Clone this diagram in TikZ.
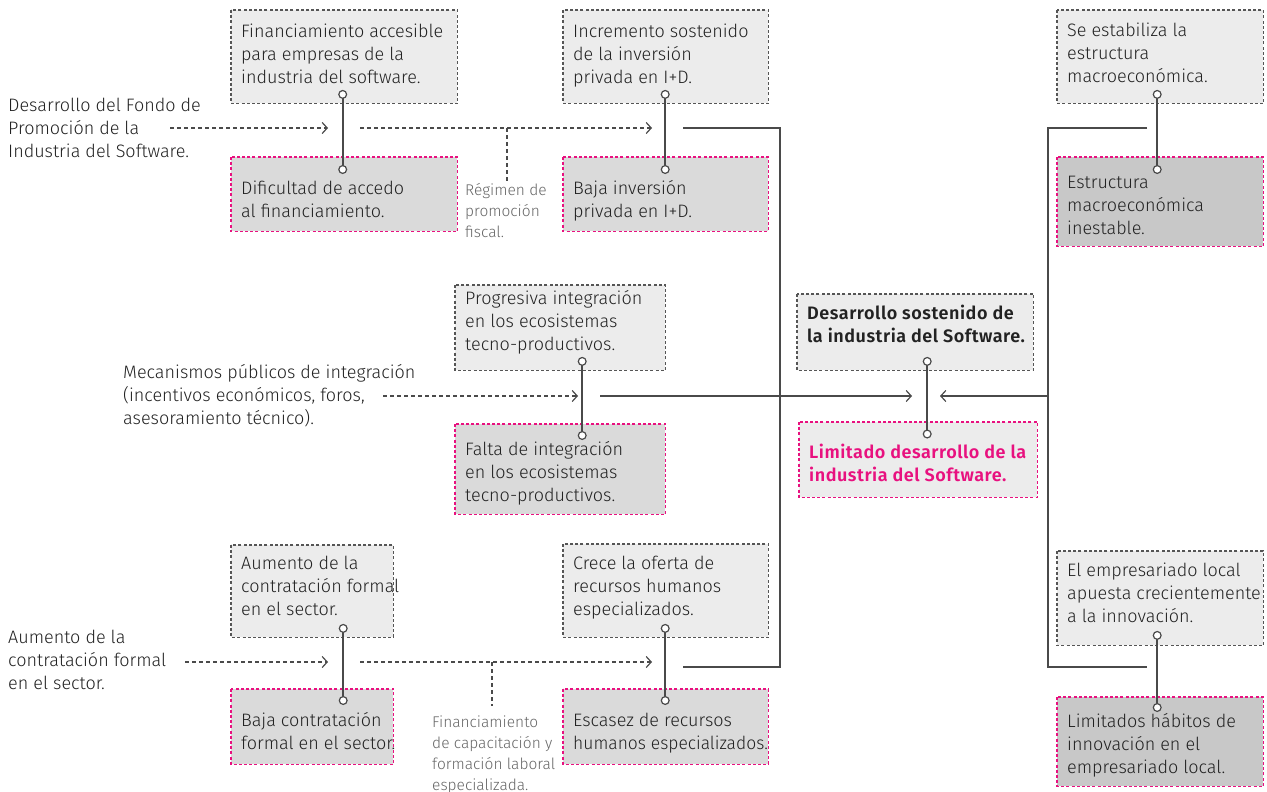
\documentclass[tikz,border=0pt]{standalone}
\usepackage{fontspec}
\setmainfont{Fira Sans Light}[BoldFont={Fira Sans SemiBold}, BoldFeatures={LetterSpace=3}]
\usetikzlibrary{arrows.meta}
\definecolor{ink}{HTML}{222222}
\definecolor{linegray}{HTML}{4A4A4A}
\definecolor{boxline}{HTML}{555555}
\definecolor{notegray}{HTML}{666666}
\definecolor{fillA}{HTML}{ECECEC}
\definecolor{fillB}{HTML}{DADADA}
\definecolor{fillC}{HTML}{C8C8C8}
\definecolor{rosa}{HTML}{E8117F}
% left-aligned block of lines, allowed to run past its nominal width
\newcommand{\linesl}[1]{\begin{tabular}[t]{@{}l@{}}#1\end{tabular}}
% box contents: width, height, first-baseline offset from the top, lines
\newcommand{\boxtext}[4]{\parbox[c][#2pt][t]{#1pt}{\vspace*{\dimexpr #3pt-16.1pt\relax}\linesl{#4}}}
\tikzset{
  basebox/.style={anchor=north west, inner xsep=10pt, inner ysep=0pt, text=ink,
    font=\fontsize{18}{23}\selectfont},
  goalbox/.style={basebox, fill=fillA},
  probbox/.style={basebox, fill=fillB},
  probdark/.style={basebox, fill=fillC},
  frame/.style={line width=1.2pt, dash pattern=on 3pt off 2.2pt},
  goalframe/.style={frame, draw=boxline},
  probframe/.style={frame, draw=rosa},
  sidetext/.style={anchor=base west, inner sep=0pt, text=ink, font=\fontsize{18}{23}\selectfont},
  note/.style={anchor=base west, inner sep=0pt, text=notegray, font=\fontsize{15.5}{21}\selectfont},
  pair/.style={draw=linegray, line width=1.6pt,
    {Circle[length=9pt,width=9pt,fill=white,line width=1.2pt]}-{Circle[length=9pt,width=9pt,fill=white,line width=1.2pt]}},
  dasharrow/.style={draw=linegray, line width=1.1pt, dash pattern=on 4pt off 3pt,
    -{Straight Barb[length=5pt,width=11pt,line width=1.2pt]}},
  dashline/.style={draw=linegray, line width=1.1pt, dash pattern=on 4pt off 3pt},
  solidline/.style={draw=linegray, line width=1.3pt},
  solidarrow/.style={solidline, -{Straight Barb[length=5pt,width=11pt,line width=1.2pt]}},
}
\begin{document}
\begin{tikzpicture}[x=1pt,y=-1pt]
\useasboundingbox (0,0) rectangle (1267,792);

% ---- row 1: financing / R&D / macro ----
\node[goalbox] (g1) at (231,10)
  {\boxtext{206}{93}{27}{Financiamiento accesible\\para empresas de la\\industria del software.}};
\node[probbox] (p1) at (231,157)
  {\boxtext{206}{74}{37}{Dificultad de accedo\\al financiamiento.}};
\node[goalbox] (g2) at (563,10)
  {\boxtext{185}{93}{27}{Incremento sostenido\\de la inversión\\privada en I+D.}};
\node[probbox] (p2) at (563,157)
  {\boxtext{185}{74}{37}{Baja inversión\\privada en I+D.}};
\node[goalbox] (g5) at (1057,10)
  {\boxtext{186}{93}{26}{Se estabiliza la\\estructura\\macroeconómica.}};
\node[probdark] (p5) at (1057,157)
  {\boxtext{186}{89}{31}{Estructura\\macroeconómica\\inestable.}};

% ---- row 2: integration / central effect ----
\node[goalbox] (g7) at (455,285)
  {\boxtext{190}{85}{19}{Progresiva integración\\en los ecosistemas\\tecno-productivos.}};
\node[probbox] (p7) at (455,424)
  {\boxtext{190}{90}{31}{Falta de integración\\en los ecosistemas\\tecno-productivos.}};
\node[goalbox, font=\bfseries\fontsize{18}{23}\selectfont] (g9) at (797,294)
  {\boxtext{216}{76}{25}{Desarrollo sostenido de\\la industria del Software.}};
\node[basebox, fill=fillA, text=rosa, font=\bfseries\fontsize{18}{23}\selectfont] (p9) at (799,422)
  {\boxtext{218}{75}{36}{Limitado desarrollo de la\\industria del Software.}};

% ---- row 3: employment / human resources / innovation ----
\node[goalbox] (g11) at (231,545)
  {\boxtext{142}{92}{24}{Aumento de la\\contratación formal\\en el sector.}};
\node[probbox] (p11) at (231,689)
  {\boxtext{142}{75}{37}{Baja contratación\\formal en el sector.}};
\node[goalbox] (g13) at (563,544)
  {\boxtext{185}{93}{25}{Crece la oferta de\\recursos humanos\\especializados.}};
\node[probbox] (p13) at (563,689)
  {\boxtext{185}{75}{37}{Escasez de recursos\\\scalebox{0.97}[1]{humanos especializados.}}};
\node[goalbox] (g15) at (1057,551)
  {\boxtext{186}{94}{25}{El empresariado local\\apuesta crecientemente\\a la innovación.}};
\node[probdark] (p15) at (1057,697)
  {\boxtext{186}{89}{30}{Limitados hábitos de\\innovación en el\\empresariado local.}};

% ---- dashed frames ----
\foreach \n in {g1,g2,g5,g7,g9,g11,g13,g15}
  \draw[goalframe] (\n.north west) rectangle (\n.south east);
\foreach \n in {p1,p2,p5,p7,p9,p11,p13,p15}
  \draw[probframe] (\n.north west) rectangle (\n.south east);

% ---- goal/problem pairs ----
\draw[pair] ([xshift=-1.5pt,yshift=13.5pt]g1.south) -- ([xshift=-1.5pt,yshift=-17pt]p1.north);
\draw[pair] ([xshift=-0.5pt,yshift=13.5pt]g2.south) -- ([xshift=-0.5pt,yshift=-17pt]p2.north);
\draw[pair] ([xshift=-3pt,yshift=13.5pt]g5.south) -- ([xshift=-3pt,yshift=-17pt]p5.north);
\draw[pair] ([xshift=22pt,yshift=13.5pt]g7.south) -- ([xshift=22pt,yshift=-16pt]p7.north);
\draw[pair] ([xshift=12pt,yshift=13.5pt]g9.south) -- ([xshift=9pt,yshift=-16.5pt]p9.north);
\draw[pair] ([xshift=31pt,yshift=13.5pt]g11.south) -- ([xshift=31pt,yshift=-16pt]p11.north);
\draw[pair] ([xshift=-0.5pt,yshift=13.5pt]g13.south) -- ([xshift=-0.5pt,yshift=-16pt]p13.north);
\draw[pair] ([xshift=-3pt,yshift=14.5pt]g15.south) -- ([xshift=-3pt,yshift=-15pt]p15.north);

% ---- policy inputs ----
\node[sidetext] (in1) at (8,111.5)
  {\linesl{Desarrollo del Fondo de\\Promoción de la\\Industria del Software.}};
\node[sidetext] (in2) at (123,378)
  {\linesl{Mecanismos públicos de integración\\(incentivos económicos, foros,\\asesoramiento técnico).}};
\node[sidetext] (in3) at (8,643)
  {\linesl{Aumento de la\\contratación formal\\en el sector.}};
\node[note] (n1) at (465,195.5) {\linesl{Régimen de\\promoción\\fiscal.}};
\node[note] (n2) at (432,727) {\linesl{Financiamiento\\de capacitación y\\formación laboral\\especializada.}};

\coordinate (a1s) at (170,128);  \coordinate (a1e) at (328,128);
\coordinate (a2s) at (360,128);  \coordinate (a2e) at (652,128);
\coordinate (r1) at (507,128);
\coordinate (a3s) at (383,396);  \coordinate (a3e) at (578,396);
\coordinate (a4s) at (185,662);  \coordinate (a4e) at (328,662);
\coordinate (a5s) at (360,662);  \coordinate (a5e) at (652,662);
\coordinate (r2) at (492,662);

\draw[dasharrow] (a1s) -- (a1e);
\draw[dasharrow] (a2s) -- (a2e);
\draw[dashline] (r1) -- (r1 |- n1.north);
\draw[dasharrow] (a3s) -- (a3e);
\draw[dasharrow] (a4s) -- (a4e);
\draw[dasharrow] (a5s) -- (a5e);
\draw[dashline] (r2) -- ([yshift=6pt]r2 |- n2.north);

% ---- collectors into the central effect ----
\coordinate (lt) at (683,128);  \coordinate (lb) at (683,667);  \coordinate (lx) at (780,128);
\coordinate (rt) at (1147,128); \coordinate (rb) at (1147,667); \coordinate (rx) at (1048,128);
\draw[solidline] (lt) -- (lx) -- (lx |- lb) -- (lb);
\draw[solidline] (rt) -- (rx) -- (rx |- rb) -- (rb);
\coordinate (m1) at (600,396);  \coordinate (m1e) at (912,396);
\coordinate (m2) at (1048,396); \coordinate (m2e) at (940,396);
\draw[solidarrow] (m1) -- (m1e);
\draw[solidarrow] (m2) -- (m2e);
\end{tikzpicture}
\end{document}
